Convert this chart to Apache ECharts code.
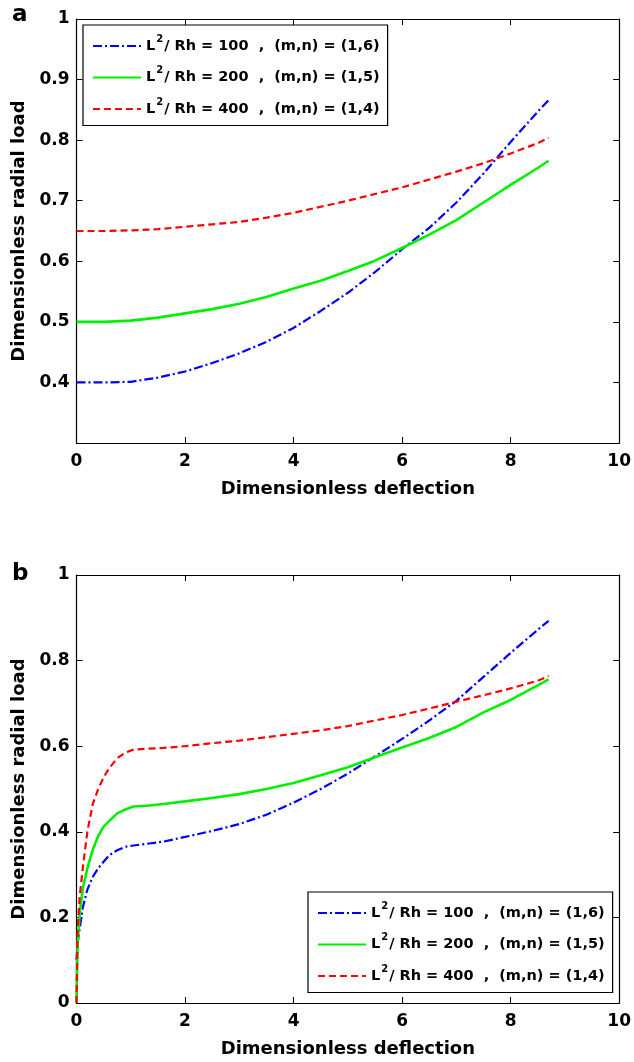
<!DOCTYPE html>
<html><head><meta charset="utf-8">
<script src="https://cdn.jsdelivr.net/npm/echarts@6/dist/echarts.min.js"></script>
<style>html,body{margin:0;padding:0;background:#fff}#c{width:634px;height:1062px}</style>
</head><body><div id="c"></div>
<script>
const ratios = [100, 200, 400];
const modes = ['(1,6)', '(1,5)', '(1,4)'];
const colors = ['#0000ff', '#00f000', '#ff0000'];

const xA = [0,0.5,1,1.5,2,2.5,3,3.5,4,4.5,5,5.5,6,6.5,7,7.5,8,8.5,8.7];
const a100 = [0.400,0.400,0.401,0.408,0.418,0.432,0.448,0.467,0.490,0.518,0.548,0.582,0.620,0.655,0.697,0.745,0.797,0.847,0.866];
const a200 = [0.500,0.500,0.502,0.507,0.514,0.521,0.530,0.541,0.555,0.568,0.584,0.601,0.622,0.644,0.668,0.697,0.726,0.754,0.766];
const a400 = [0.650,0.650,0.651,0.653,0.657,0.661,0.665,0.672,0.680,0.690,0.700,0.711,0.722,0.735,0.748,0.762,0.778,0.795,0.804];

const xB = [0,0.02,0.06,0.12,0.2,0.3,0.4,0.5,0.6,0.75,0.9,1.05,1.3,1.6,2,2.5,3,3.5,4,4.5,5,5.5,6,6.5,7,7.5,8,8.5,8.7];
const b100 = [0.10,0.14,0.175,0.225,0.265,0.295,0.315,0.33,0.345,0.357,0.365,0.368,0.372,0.377,0.388,0.402,0.418,0.44,0.468,0.50,0.536,0.576,0.617,0.66,0.706,0.762,0.818,0.872,0.893];
const b200 = [0,0.14,0.21,0.27,0.315,0.358,0.39,0.412,0.425,0.443,0.452,0.459,0.461,0.465,0.471,0.479,0.488,0.50,0.514,0.532,0.551,0.574,0.597,0.619,0.645,0.679,0.708,0.742,0.756];
const b400 = [0,0.17,0.25,0.32,0.40,0.465,0.50,0.527,0.548,0.572,0.585,0.592,0.594,0.596,0.600,0.607,0.613,0.621,0.629,0.637,0.647,0.66,0.673,0.688,0.704,0.719,0.735,0.753,0.764];

const xTicks = [0, 10, 2];      // min, max, interval
const yTicksA = [0.3, 1, 0.1];
const yTicksB = [0, 1, 0.2];

const names = ratios.map(r => 'L2/Rh=' + r);
const FONT = 'DejaVu Sans';
const lineTypes = [[9,3,2,3], 'solid', [7,4]];
const lineWidths = [2.2, 2.6, 2.2];

function pairs(xs, ys){ return xs.map((v,i)=>[v, ys[i]]); }

const chart = echarts.init(document.getElementById('c'), null, {renderer:'canvas'});

const grids = [
  {left:76.5, right:12.5, top:19, height:424},
  {left:76.5, right:12.5, top:575, height:428}
];

function xAx(gi, pos){
  const bottom = pos === 'bottom';
  return {type:'value', gridIndex:gi, position:pos, min:xTicks[0], max:xTicks[1], interval:xTicks[2],
    axisLine:{show:true, onZero:false, lineStyle:{color:'#000', width:1.2}},
    axisTick:{show:true, inside:true, length:6, lineStyle:{color:'#000'}},
    splitLine:{show:false},
    axisLabel:{show:bottom, color:'#000', fontFamily:FONT, fontWeight:'bold', fontSize:17, margin:10},
    name: bottom ? 'Dimensionless deflection' : '', nameLocation:'middle', nameGap:37,
    nameTextStyle:{color:'#000', fontFamily:FONT, fontWeight:'bold', fontSize:18}
  };
}
function yAx(gi, pos, t){
  const left = pos === 'left';
  return {type:'value', gridIndex:gi, position:pos, min:t[0], max:t[1], interval:t[2],
    axisLine:{show:true, onZero:false, lineStyle:{color:'#000', width:1.2}},
    axisTick:{show:true, inside:true, length:6, lineStyle:{color:'#000'}},
    splitLine:{show:false},
    axisLabel:{show:left, color:'#000', fontFamily:FONT, fontWeight:'bold', fontSize:17, margin:7,
      showMinLabel: gi === 1, formatter: v => String(Math.round(v*10)/10)},
    name: left ? 'Dimensionless radial load' : '', nameLocation:'middle', nameGap:48,
    nameTextStyle:{color:'#000', fontFamily:FONT, fontWeight:'bold', fontSize:18}
  };
}

const dataA = [a100, a200, a400];
const dataB = [b100, b200, b400];
const series = [];
[0,1].forEach(p => {
  const xs = p === 0 ? xA : xB;
  const ds = p === 0 ? dataA : dataB;
  ds.forEach((ys, i) => {
    series.push({type:'line', name:names[i], xAxisIndex:p*2, yAxisIndex:p*2,
      data:pairs(xs, ys), showSymbol:false, symbol:'none', smooth:false,
      lineStyle:{color:colors[i], width:lineWidths[i], type:lineTypes[i]},
      itemStyle:{color:colors[i]}, z:3});
  });
});

const rich = {
  m:{fontFamily:FONT, fontWeight:'bold', fontSize:14.5, color:'#000', lineHeight:24},
  s:{fontFamily:FONT, fontWeight:'bold', fontSize:10, color:'#000', lineHeight:24, verticalAlign:'top', padding:[0,1,9,1]}
};
function legendFmt(name){
  const i = names.indexOf(name);
  return '{m|L}{s|2}{m|/ Rh = ' + ratios[i] + '  ,  (m,n) = ' + modes[i] + '}';
}
function mkLegend(left, top){
  return {show:true, orient:'vertical', left:left, top:top, data:names,
    itemWidth:48, itemHeight:14, itemGap:12, padding:[9,8,9,9],
    borderColor:'#000', borderWidth:1.2, backgroundColor:'#fff',
    itemStyle:{opacity:0},
    formatter:legendFmt, textStyle:{rich:rich, color:'#000'}, selectedMode:false};
}

chart.setOption({
  animation:false,
  backgroundColor:'#fff',
  title:[
    {text:'a', left:12, top:4, padding:0, textStyle:{fontFamily:FONT, fontWeight:'bold', fontSize:23, color:'#000'}},
    {text:'b', left:12, top:563, padding:0, textStyle:{fontFamily:FONT, fontWeight:'bold', fontSize:23, color:'#000'}}
  ],
  legend:[mkLegend(83, 25), mkLegend(308, 892)],
  grid:grids,
  xAxis:[xAx(0,'bottom'), xAx(0,'top'), xAx(1,'bottom'), xAx(1,'top')],
  yAxis:[yAx(0,'left',yTicksA), yAx(0,'right',yTicksA), yAx(1,'left',yTicksB), yAx(1,'right',yTicksB)],
  series:series
});
</script></body></html>
